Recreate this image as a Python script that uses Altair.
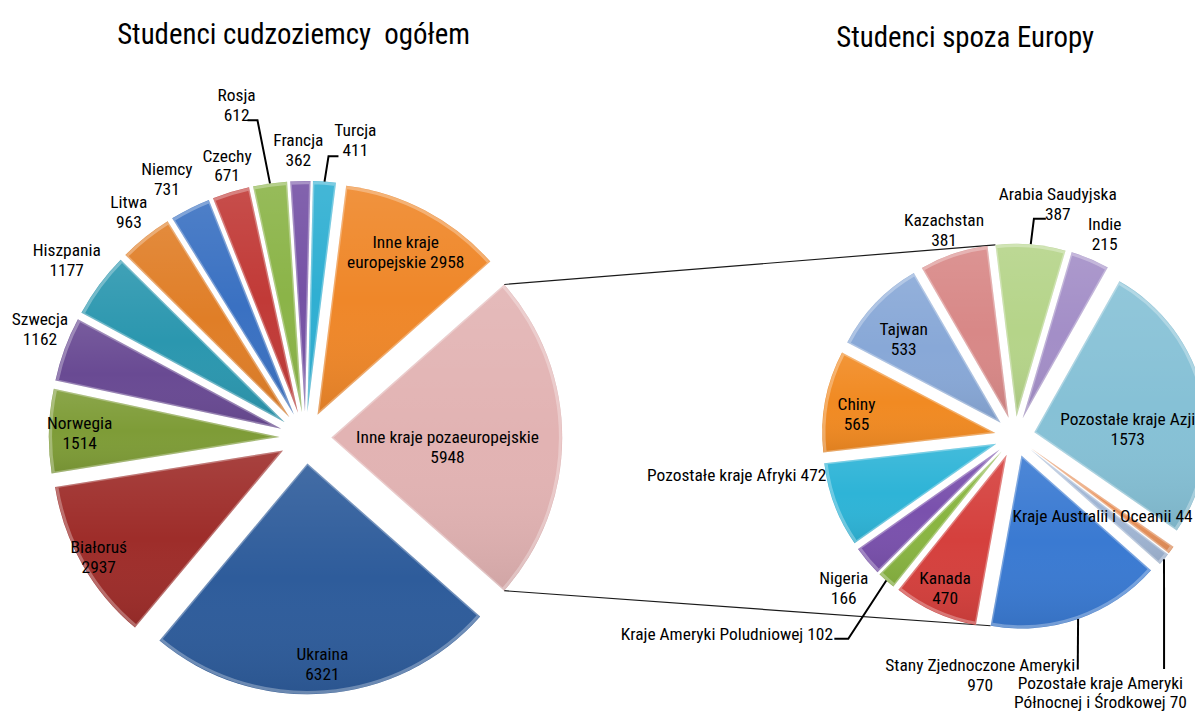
import math
import altair as alt
import pandas as pd

# ------------------------------------------------------------------ data
left_names = ["Inne kraje pozaeuropejskie", "Ukraina", "Białoruś", "Norwegia", "Szwecja",
              "Hiszpania", "Litwa", "Niemcy", "Czechy", "Rosja", "Francja", "Turcja",
              "Inne kraje europejskie"]
left_values = [5948, 6321, 2937, 1514, 1162, 1177, 963, 731, 671, 612, 362, 411, 2958]

right_names = ["Arabia Saudyjska", "Indie", "Pozostałe kraje Azji", "Kraje Australii i Oceanii",
               "Pozostałe kraje Ameryki Północnej i Środkowej", "Stany Zjednoczone Ameryki",
               "Kanada", "Kraje Ameryki Poludniowej", "Nigeria", "Pozostałe kraje Afryki",
               "Chiny", "Tajwan", "Kazachstan"]
right_values = [387, 215, 1573, 44, 70, 970, 470, 102, 166, 472, 565, 533, 381]

titles = ["Studenci cudzoziemcy\u00a0 ogółem", "Studenci spoza Europy"]

# ------------------------------------------------------------------ styles
left_colors = ["#E2B3B3", "#2E5C9B", "#9E2D2A", "#7E9C37", "#694A93", "#2B97AF", "#E07E27",
               "#3A71C2", "#C13A37", "#8BB448", "#7552A5", "#2FAFD2", "#EF8729"]
right_colors = ["#B5D489", "#A38EC7", "#86C1D6", "#E8915A", "#A1B6D4", "#3A7AD2", "#D5403D",
                "#89B541", "#7A51AD", "#2EB4D7", "#F18A22", "#88A8D7", "#D88887"]

FONT = "Roboto Condensed, Liberation Sans Narrow, DejaVu Sans Condensed, sans-serif"
LINE_H = 20
MULTILINE_SHIFT = 7.5   # vertical correction per extra text line

# pie geometry (chart pixel space)
PIES = {
    "L": dict(cx=299, cy=430, r=232, explode=26),
    "R": dict(cx=1012, cy=429, r=174, explode=20, start=-7.0),
}

# how each label is written
LABEL_FMT = {
    "Inne kraje europejskie": "Inne kraje\neuropejskie {v}",
    "Kraje Australii i Oceanii": "{n} {v}",
    "Pozostałe kraje Ameryki Północnej i Środkowej": "Pozostałe kraje Ameryki\nPółnocnej i Środkowej {v}",
    "Kraje Ameryki Poludniowej": "{n} {v}",
    "Pozostałe kraje Afryki": "{n} {v}",
}

# label placement: (angle nudge in degrees, distance from slice apex in px)
LABEL_POS = {
    "L": {
        "Inne kraje pozaeuropejskie": (4, 117), "Ukraina": (0, 201), "Białoruś": (0, 213),
        "Norwegia": (0, 201), "Szwecja": (2.6, 263), "Hiszpania": (0.4, 274),
        "Litwa": (0.7, 263), "Niemcy": (-1.5, 270), "Czechy": (1, 260), "Rosja": (-4, 317),
        "Francja": (-0.3, 265), "Turcja": (5.7, 279), "Inne kraje europejskie": (0.5, 187),
    },
    "R": {
        "Arabia Saudyjska": (6.2, 219), "Indie": (0.9, 204), "Pozostałe kraje Azji": (10.2, 94),
        "Kraje Australii i Oceanii": (8.0, 100),
        "Pozostałe kraje Ameryki Północnej i Środkowej": (34.4, 253),
        "Stany Zjednoczone Ameryki": (29.8, 223), "Kanada": (0.6, 146),
        "Kraje Ameryki Poludniowej": (14.5, 332), "Nigeria": (-1.3, 209),
        "Pozostałe kraje Afryki": (13.6, 263), "Chiny": (-2.3, 141), "Tajwan": (-2.3, 130),
        "Kazachstan": (-0.3, 201),
    },
}

# leader lines: points relative to the label anchor, ending on the slice rim
LEADERS = {
    ("L", "Rosja"): [(11, 17), (21, 17)],
    ("L", "Turcja"): [(-17, 18), (-27, 18)],
    ("R", "Arabia Saudyjska"): [(-12, 16), (-24, 16)],
    ("R", "Kraje Ameryki Poludniowej"): [(108, 4), (122, 4)],
    ("R", "Stany Zjednoczone Ameryki"): [(98, -4)],
    ("R", "Pozostałe kraje Ameryki Północnej i Środkowej"): [(64, -22)],
}

TITLE_POS = [(287, 34), (962, 37)]


def d2r(a):
    return a * math.pi / 180.0


def unit(a):
    return math.sin(d2r(a)), -math.cos(d2r(a))


# ------------------------------------------------------------------ geometry tables
slices, labels, leads = [], [], []
geo = {}
for pie, names, values, colors in (("L", left_names, left_values, left_colors),
                                   ("R", right_names, right_values, right_colors)):
    cfg = PIES[pie]
    total = float(sum(values))
    if "start" in cfg:
        a = cfg["start"]
    else:  # first ("other") slice centred at 3 o'clock
        a = 90.0 - 0.5 * values[0] / total * 360.0
    for n, v, c in zip(names, values, colors):
        a0, a1 = a, a + v / total * 360.0
        a = a1
        mid = 0.5 * (a0 + a1)
        ux, uy = unit(mid)
        ex, ey = cfg["cx"] + cfg["explode"] * ux, cfg["cy"] + cfg["explode"] * uy
        key = f"{pie}|{n}"
        geo[key] = (ex, ey, a0, a1, mid)
        slices.append(dict(key=key, a0=d2r(a0), a1=d2r(a1), ex=ex, ey=ey,
                           r=cfg["r"], rin=cfg["r"] - 1.8, color=c))
        dth, rho = LABEL_POS[pie][n]
        lx_u, ly_u = unit(mid + dth)
        lx, ly = ex + rho * lx_u, ey + rho * ly_u
        txt = LABEL_FMT.get(n, "{n}\n{v}").format(n=n, v=v)
        nl = txt.count("\n")
        labels.append(dict(key=key, txt=txt, lx=lx, ly=ly - MULTILINE_SHIFT * nl))
        if (pie, n) in LEADERS:
            rx, ry = ex + cfg["r"] * ux, ey + cfg["r"] * uy
            pts = [(lx + dx, ly + dy) for dx, dy in LEADERS[(pie, n)]] + [(rx, ry)]
            for i, (px, py) in enumerate(pts):
                leads.append(dict(lid=key, seq=i, px=px, py=py))

# series lines between the "other" slice and the secondary pie
lcfg, rcfg = PIES["L"], PIES["R"]
ex, ey, a0, a1, _ = geo["L|" + left_names[0]]
p_top = (ex + lcfg["r"] * unit(a0)[0], ey + lcfg["r"] * unit(a0)[1])
p_bot = (ex + lcfg["r"] * unit(a1)[0], ey + lcfg["r"] * unit(a1)[1])
ex2, ey2, b0, _, _ = geo["R|" + right_names[0]]
q_top = (ex2 + rcfg["r"] * unit(b0)[0], ey2 + rcfg["r"] * unit(b0)[1])
opp = b0 + 180.0
for n in right_names:
    gx, gy, c0, c1, _ = geo["R|" + n]
    if c0 <= opp <= c1:
        q_bot = (gx + rcfg["r"] * unit(c1)[0], gy + rcfg["r"] * unit(c1)[1])
        break
series = pd.DataFrame([
    dict(lid="top", seq=0, px=p_top[0], py=p_top[1]), dict(lid="top", seq=1, px=q_top[0], py=q_top[1]),
    dict(lid="bot", seq=0, px=p_bot[0], py=p_bot[1]), dict(lid="bot", seq=1, px=q_bot[0], py=q_bot[1]),
])

slices = pd.DataFrame(slices)
labels = pd.DataFrame(labels)
leads = pd.DataFrame(leads)
title_df = pd.DataFrame(dict(t=titles, tx=[p[0] for p in TITLE_POS], ty=[p[1] for p in TITLE_POS]))

X = lambda f: alt.X(f, type="quantitative", scale=None, axis=None)
Y = lambda f: alt.Y(f, type="quantitative", scale=None, axis=None)

color_scale = alt.Scale(domain=list(slices["key"]), range=list(slices["color"]))

series_layer = alt.Chart(series).mark_line(color="#1a1a1a", strokeWidth=1.2).encode(
    x=X("px"), y=Y("py"), detail="lid:N", order="seq:Q")

shadow = alt.Chart(slices).mark_arc(fill="#000000", fillOpacity=0.09, dx=2, dy=3).encode(
    x=X("ex"), y=Y("ey"), theta=alt.Theta("a0:Q", scale=None), theta2="a1:Q",
    radius=alt.Radius("r:Q", scale=None))

arcs = alt.Chart(slices).mark_arc().encode(
    x=X("ex"), y=Y("ey"), theta=alt.Theta("a0:Q", scale=None), theta2="a1:Q",
    radius=alt.Radius("r:Q", scale=None),
    color=alt.Color("key:N", scale=color_scale, legend=None))

shade = alt.Chart(slices).mark_arc(
    fill=alt.Gradient(gradient="linear", x1=0, y1=0, x2=0, y2=1,
                      stops=[alt.GradientStop(color="rgba(255,255,255,0.10)", offset=0),
                             alt.GradientStop(color="rgba(255,255,255,0.0)", offset=0.5),
                             alt.GradientStop(color="rgba(0,0,0,0.08)", offset=1)])
).encode(x=X("ex"), y=Y("ey"), theta=alt.Theta("a0:Q", scale=None), theta2="a1:Q",
         radius=alt.Radius("r:Q", scale=None))

rim = alt.Chart(slices).mark_arc(fillOpacity=0, stroke="#ffffff", strokeOpacity=0.3,
                                 strokeWidth=3, strokeJoin="round").encode(
    x=X("ex"), y=Y("ey"), theta=alt.Theta("a0:Q", scale=None), theta2="a1:Q",
    radius=alt.Radius("rin:Q", scale=None))

leader_layer = alt.Chart(leads).mark_line(color="#000000", strokeWidth=2).encode(
    x=X("px"), y=Y("py"), detail="lid:N", order="seq:Q")

text_layer = alt.Chart(labels).mark_text(font=FONT, fontSize=17.5, color="#000000",
                                         align="center", baseline="middle",
                                         lineBreak="\n", lineHeight=LINE_H).encode(
    x=X("lx"), y=Y("ly"), text="txt:N")

title_layer = alt.Chart(title_df).mark_text(font=FONT, fontSize=29, color="#000000",
                                            align="center", baseline="alphabetic").encode(
    x=X("tx"), y=Y("ty"), text="t:N")

chart = alt.layer(series_layer, shadow, arcs, shade, rim, leader_layer, text_layer, title_layer).properties(
    width=1193, height=704, padding=0,
    autosize=alt.AutoSizeParams(type="none", contains="padding"),
    background="#ffffff",
).configure_view(stroke=None)

chart.save("out.html", embed_options={"renderer": "svg", "actions": False})
